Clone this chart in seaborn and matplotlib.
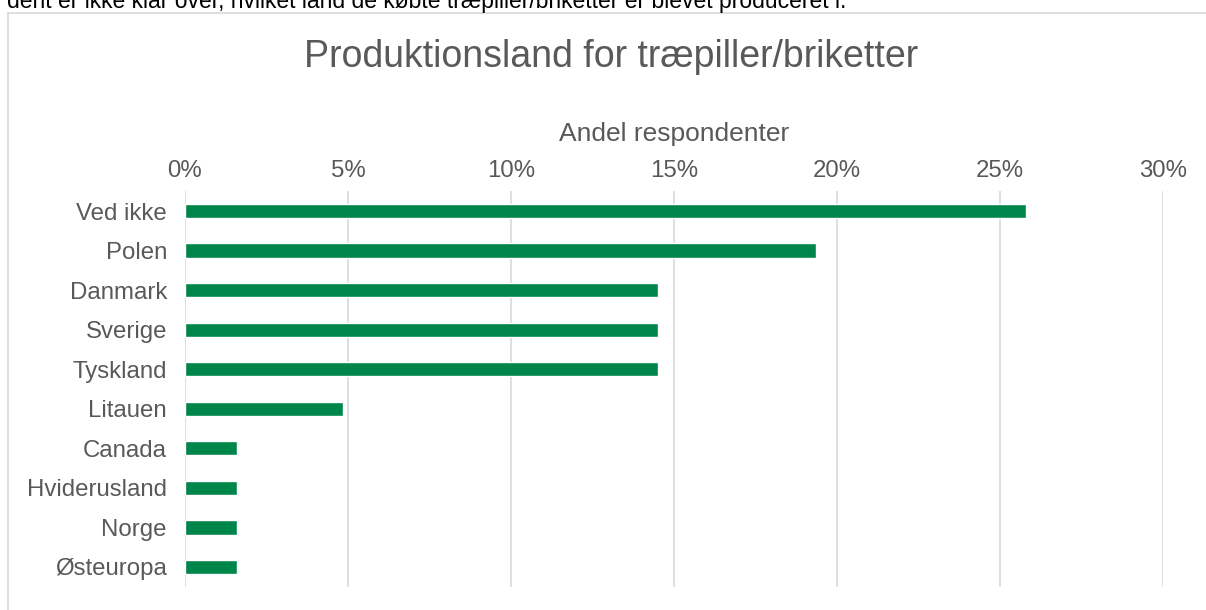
import matplotlib
matplotlib.use("Agg")
import matplotlib.pyplot as plt
import seaborn as sns
import pandas as pd
from matplotlib.lines import Line2D
from matplotlib.ticker import FuncFormatter

categories = ["Ved ikke", "Polen", "Danmark", "Sverige", "Tyskland", "Litauen",
              "Canada", "Hviderusland", "Norge", "Østeuropa"]
shares = [0.258, 0.1935, 0.145, 0.145, 0.145, 0.0484, 0.0161, 0.0161, 0.0161, 0.0161]
xticks = [0, 0.05, 0.10, 0.15, 0.20, 0.25, 0.30]

df = pd.DataFrame({"land": categories, "andel": shares})

sns.set_theme(style="white")
plt.rcParams["font.family"] = ["Liberation Sans", "DejaVu Sans"]

W, H = 1206, 610
fig = plt.figure(figsize=(W / 100, H / 100), dpi=100)
ax = fig.add_axes([185 / W, 23.25 / H, (1163 - 185) / W, (586.75 - 191.25) / H])

sns.barplot(data=df, x="andel", y="land", orient="h", color="#00854A",
            saturation=1, width=0.36, ax=ax, order=categories, zorder=3)

ax.set_xlim(0, 0.30)
ax.set_ylim(9.5, -0.5)
ax.set_xticks(xticks)
ax.xaxis.set_major_formatter(FuncFormatter(lambda v, p: f"{round(v * 100):d}%"))
ax.xaxis.tick_top()
ax.xaxis.set_label_position("top")
ax.grid(axis="x", color="#D9D9D9", linewidth=1.2, zorder=0)
ax.grid(axis="y", visible=False)
for s in ax.spines.values():
    s.set_visible(False)
ax.tick_params(axis="x", length=0, pad=7, labelsize=17.3, labelcolor="#595959")
ax.tick_params(axis="y", length=0, pad=13, labelsize=17.3, labelcolor="#595959")
ax.set_ylabel("")
ax.set_xlabel("Andel respondenter", fontsize=19, color="#595959", labelpad=13)

fig.text(611 / W, 1 - 57 / H, "Produktionsland for træpiller/briketter",
         ha="center", va="center", fontsize=27, color="#595959")

fig.text(7 / W, 1 - 8 / H,
         "dent er ikke klar over, hvilket land de købte træpiller/briketter er blevet produceret i.",
         ha="left", va="baseline", fontsize=16.5, color="#000000")

fig.add_artist(Line2D([7.5 / W, 7.5 / W], [0, 1 - 12.5 / H], transform=fig.transFigure,
                      color="#D9D9D9", linewidth=1.2))
fig.add_artist(Line2D([7.5 / W, 1], [1 - 12.5 / H, 1 - 12.5 / H], transform=fig.transFigure,
                      color="#D9D9D9", linewidth=1.2))

fig.savefig("out.png", dpi=100)
